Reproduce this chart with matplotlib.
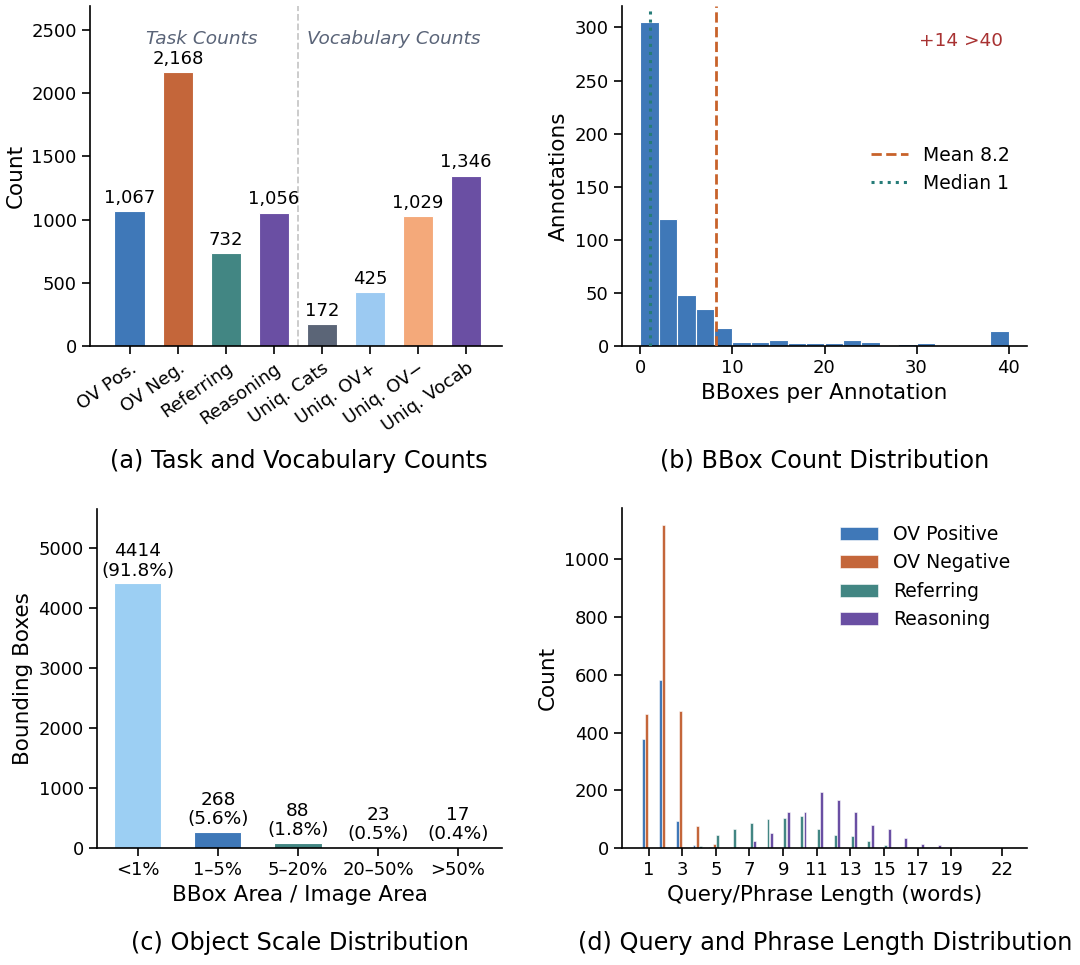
import numpy as np
import matplotlib
matplotlib.use("Agg")
import matplotlib.pyplot as plt

# (a) task / vocabulary counts
count_labels = ["OV Pos.", "OV Neg.", "Referring", "Reasoning",
                "Uniq. Cats", "Uniq. OV+", "Uniq. OV\u2212", "Uniq. Vocab"]
count_values = [1067, 2168, 732, 1056, 172, 425, 1029, 1346]
count_colors = ["#3f78b8", "#c4663a", "#428683", "#6a4fa3",
                "#5b6577", "#9ccaf2", "#f4a97a", "#6a4fa3"]

# (b) bboxes per annotation histogram (bins of width 2, >40 clipped into last bin)
bin_edges = np.arange(0, 42, 2)
bin_counts = [305, 120, 48, 35, 17, 4, 4, 6, 3, 3, 3, 6, 4, 0, 2, 3, 1, 1, 0, 14]
bbox_mean = 8.2
bbox_median = 1
n_over = 14

# (c) object scale
scale_labels = ["<1%", "1\u20135%", "5\u201320%", "20\u201350%", ">50%"]
scale_values = [4414, 268, 88, 23, 17]
scale_pct = [91.8, 5.6, 1.8, 0.5, 0.4]
scale_colors = ["#9ccff3", "#3f78b8", "#428683", "#c4663a", "#6a4fa3"]

# (d) query / phrase length
lengths = list(range(1, 23))
ov_pos = [376, 581, 95, 9, 2, 0, 0, 0, 0, 0, 0, 0, 0, 0, 0, 0, 0, 0, 0, 0, 0, 0]
ov_neg = [466, 1119, 476, 76, 15, 2, 0, 0, 0, 0, 0, 0, 0, 0, 0, 0, 0, 0, 0, 0, 0, 0]
referring = [0, 0, 1, 7, 45, 66, 87, 99, 104, 111, 66, 46, 42, 23, 9, 2, 1, 0, 0, 0, 0, 0]
reasoning = [0, 0, 0, 0, 1, 5, 23, 53, 123, 125, 195, 166, 123, 81, 67, 36, 14, 12, 3, 1, 0, 1]
length_series = [("OV Positive", ov_pos, "#3f78b8"),
                 ("OV Negative", ov_neg, "#c4663a"),
                 ("Referring", referring, "#428683"),
                 ("Reasoning", reasoning, "#6a4fa3")]
length_ticks = [1, 3, 5, 7, 9, 11, 13, 15, 17, 19, 22]

plt.rcParams["font.family"] = ["DejaVu Sans"]
plt.rcParams["xtick.labelsize"] = 13
plt.rcParams["ytick.labelsize"] = 13
plt.rcParams["axes.labelsize"] = 15.5
plt.rcParams["axes.linewidth"] = 1.2
plt.rcParams["xtick.major.size"] = 6
plt.rcParams["ytick.major.size"] = 6
plt.rcParams["xtick.major.width"] = 1.2
plt.rcParams["ytick.major.width"] = 1.2

W, H = 1080, 965
fig = plt.figure(figsize=(W / 100, H / 100), dpi=100)

def px_axes(l, t, r, b):
    return fig.add_axes([l / W, 1 - b / H, (r - l) / W, (b - t) / H])

ax_a = px_axes(90, 6, 502, 346)
ax_b = px_axes(622, 6, 1027, 346)
ax_c = px_axes(97, 509, 502, 848)
ax_d = px_axes(622, 508, 1027, 848)

for ax in (ax_a, ax_b, ax_c, ax_d):
    ax.spines["top"].set_visible(False)
    ax.spines["right"].set_visible(False)

# ---- (a)
x = np.arange(len(count_values))
ax_a.bar(x, count_values, width=0.64, color=count_colors, edgecolor="white", linewidth=0.8)
for xi, v in zip(x, count_values):
    ax_a.text(xi, v + 35, f"{v:,}", ha="center", va="bottom", fontsize=13)
ax_a.axvline(3.5, color="#c8c8c8", linestyle="--", linewidth=1.3)
ax_a.text(1.5, 2430, "Task Counts", ha="center", va="center", style="italic",
          color="#5a6478", fontsize=13.3)
ax_a.text(5.5, 2430, "Vocabulary Counts", ha="center", va="center", style="italic",
          color="#5a6478", fontsize=13.3)
ax_a.set_ylim(0, 2690)
ax_a.set_xlim(-0.83, 7.75)
ax_a.set_xticks(x)
ax_a.set_xticklabels(count_labels, rotation=35, ha="right", rotation_mode="anchor")
ax_a.set_ylabel("Count")

# ---- (b)
centers = bin_edges[:-1] + 1
ax_b.hist(centers, bins=bin_edges, weights=bin_counts, color="#3f78b8",
          edgecolor="white", linewidth=0.8)
ax_b.axvline(bbox_mean, color="#c8622a", linestyle="--", linewidth=2.0,
             label=f"Mean {bbox_mean}", zorder=3)
ax_b.axvline(bbox_median, color="#267c78", linestyle=":", linewidth=2.2,
             label=f"Median {bbox_median}", zorder=3)
ax_b.text(0.94, 0.925, f"+{n_over} >40", transform=ax_b.transAxes, ha="right",
          va="top", color="#a83232", fontsize=13.3)
ax_b.legend(frameon=False, loc="center right", bbox_to_anchor=(1.0, 0.52), fontsize=13.5)
ax_b.set_xlabel("BBoxes per Annotation")
ax_b.set_ylabel("Annotations")

# ---- (c)
xc = np.arange(len(scale_values))
ax_c.bar(xc, scale_values, width=0.59, color=scale_colors, edgecolor="white", linewidth=0.8)
for xi, v, p in zip(xc, scale_values, scale_pct):
    ax_c.text(xi, v + 60, f"{v}\n({p}%)", ha="center", va="bottom", fontsize=13.3,
              linespacing=1.1)
ax_c.set_ylim(0, 5650)
ax_c.set_xlim(-0.51, 4.55)
ax_c.set_xticks(xc)
ax_c.set_xticklabels(scale_labels)
ax_c.set_xlabel("BBox Area / Image Area")
ax_c.set_ylabel("Bounding Boxes")

# ---- (d)
xl = np.array(lengths)
bw = 0.17
offsets = [-0.3, -0.1, 0.1, 0.3]
for (name, vals, col), off in zip(length_series, offsets):
    ax_d.bar(xl + off, vals, width=bw, color=col, edgecolor="white", linewidth=0.4,
             label=name)
ax_d.set_xlim(-0.58, 23.5)
ax_d.set_ylim(0, 1178)
ax_d.set_xticks(length_ticks)
ax_d.set_xlabel("Query/Phrase Length (words)")
ax_d.set_ylabel("Count")
ax_d.legend(frameon=False, loc="upper right", bbox_to_anchor=(1.0, 1.0), fontsize=13.5)

# captions
cap = 17.3
fig.text(299 / W, 1 - 461 / H, "(a) Task and Vocabulary Counts", ha="center", va="center", fontsize=cap)
fig.text(825 / W, 1 - 461 / H, "(b) BBox Count Distribution", ha="center", va="center", fontsize=cap)
fig.text(300 / W, 1 - 943 / H, "(c) Object Scale Distribution", ha="center", va="center", fontsize=cap)
fig.text(825 / W, 1 - 943 / H, "(d) Query and Phrase Length Distribution", ha="center", va="center", fontsize=cap)

fig.savefig("out.png", dpi=100)
